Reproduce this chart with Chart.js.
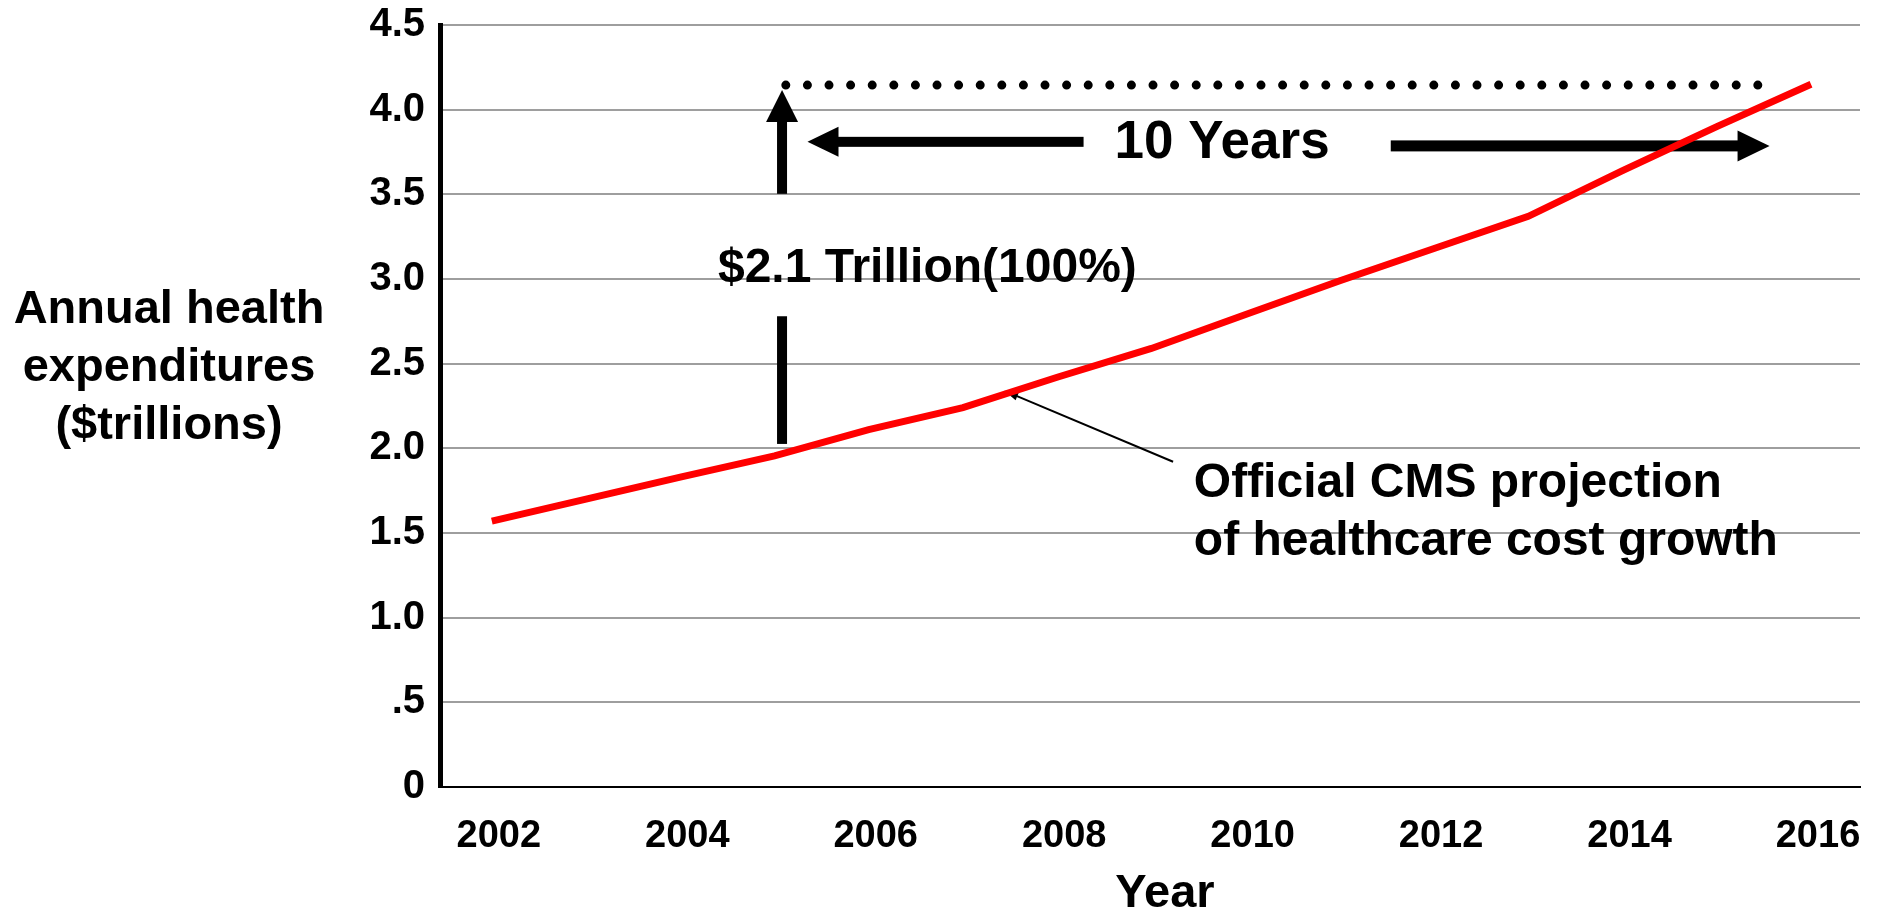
<!DOCTYPE html>
<html>
<head>
<meta charset="utf-8">
<title>Annual health expenditures</title>
<script src="https://cdn.jsdelivr.net/npm/chart.js@4.4.0/dist/chart.umd.min.js"></script>
<style>
  html, body { margin: 0; padding: 0; background: #fff; }
  #chartContainer { width: 1879px; height: 911px; }
</style>
</head>
<body>
<div id="chartContainer"><canvas id="myChart" width="1879" height="911"></canvas></div>
<script>
// Chart values.
var years = [2002, 2003, 2004, 2005, 2006, 2007, 2008, 2009, 2010, 2011, 2012, 2013, 2014, 2015, 2016];
var spending = [1.57, 1.70, 1.83, 1.955, 2.11, 2.24, 2.42, 2.59, 2.79, 2.99, 3.18, 3.37, 3.64, 3.90, 4.15];
var xTicks = [2002, 2004, 2006, 2008, 2010, 2012, 2014, 2016];
var yTicks = [0, 0.5, 1, 1.5, 2, 2.5, 3, 3.5, 4, 4.5];
var yTickLabels = ["0", ".5", "1.0", "1.5", "2.0", "2.5", "3.0", "3.5", "4.0", "4.5"];

// Texts.
var yTitleLines = ["Annual health", "expenditures", "($trillions)"];
var xTitle = "Year";
var spanLabel = "$2.1 Trillion(100%)";
var yearsLabel = "10 Years";
var calloutLines = ["Official CMS projection", "of healthcare cost growth"];

var FONT = '"Liberation Sans", Arial, Helvetica, sans-serif';

// Draw a filled arrow from (x1,y1) to tip (x2,y2).
function drawArrow(ctx, x1, y1, x2, y2, shaft, headLen, headWidth) {
  var ang = Math.atan2(y2 - y1, x2 - x1);
  var len = Math.hypot(x2 - x1, y2 - y1);
  ctx.save();
  ctx.translate(x1, y1);
  ctx.rotate(ang);
  ctx.fillRect(0, -shaft / 2, len - headLen + 1, shaft);
  ctx.beginPath();
  ctx.moveTo(len, 0);
  ctx.lineTo(len - headLen, -headWidth / 2);
  ctx.lineTo(len - headLen, headWidth / 2);
  ctx.closePath();
  ctx.fill();
  ctx.restore();
}

// Arrows, dotted line and notes, placed in data units.
var annotations = {
  id: "annotations",
  beforeDatasetsDraw: function(chart) {
    var ctx = chart.ctx;
    var xs = chart.scales.x, ys = chart.scales.y;
    var X = function(v) { return xs.getPixelForValue(v); };
    var Y = function(v) { return ys.getPixelForValue(v); };
    ctx.save();
    ctx.fillStyle = "#000";
    ctx.strokeStyle = "#000";

    // dotted line at the 2016 level
    ctx.save();
    ctx.lineWidth = 9;
    ctx.lineCap = "round";
    ctx.setLineDash([0, 21.6]);
    ctx.beginPath();
    ctx.moveTo(X(2005.12), Y(4.145));
    ctx.lineTo(X(2015.66), Y(4.145));
    ctx.stroke();
    ctx.restore();

    // vertical arrow
    drawArrow(ctx, X(2005.08), Y(3.503), X(2005.08), Y(4.116), 10, 32, 32);
    ctx.fillRect(X(2005.08) - 5, Y(2.78), 10, Y(2.026) - Y(2.78));

    // horizontal arrows
    drawArrow(ctx, X(2008.28), Y(3.81), X(2005.35), Y(3.81), 10, 31, 30);
    drawArrow(ctx, X(2011.54), Y(3.786), X(2015.56), Y(3.786), 11, 32, 31);

    // texts
    ctx.textBaseline = "alphabetic";
    ctx.font = "bold 48px " + FONT;
    ctx.textAlign = "left";
    ctx.fillText(spanLabel, X(2004.40), Y(2.982));
    ctx.font = "bold 53px " + FONT;
    ctx.textAlign = "center";
    ctx.fillText(yearsLabel, X(2009.75), Y(3.713));

    ctx.font = "bold 48px " + FONT;
    ctx.textAlign = "left";
    ctx.fillText(calloutLines[0], X(2009.45), Y(1.713));
    ctx.fillText(calloutLines[1], X(2009.45), Y(1.370));

    // thin pointer to the line
    drawArrow(ctx, X(2009.23), Y(1.921), X(2007.44), Y(2.34), 2, 14, 9);
    ctx.restore();
  },
  afterDraw: function(chart) {
    var ctx = chart.ctx;
    ctx.save();
    ctx.fillStyle = "#000";
    ctx.textAlign = "center";
    ctx.textBaseline = "alphabetic";
    ctx.font = "bold 47px " + FONT;
    var baselines = [323, 381, 439];
    for (let i = 0; i < yTitleLines.length; i++) {
      ctx.fillText(yTitleLines[i], 169, baselines[i]);
    }
    ctx.fillText(xTitle, 1165, 907);
    ctx.restore();
  }
};

var points = years.map(function(y, i) { return { x: y, y: spending[i] }; });

var ctx = document.getElementById("myChart");
var myChart = new Chart(ctx, {
  type: "line",
  data: {
    datasets: [
      {
        label: "Official CMS projection",
        data: points,
        borderColor: "#ff0000",
        backgroundColor: "#ff0000",
        borderWidth: 7,
        pointRadius: 0,
        tension: 0,
        fill: false
      }
    ]
  },
  options: {
    responsive: false,
    animation: false,
    layout: { padding: { left: 0, top: 25, right: 19, bottom: 0 } },
    plugins: {
      legend: { display: false },
      tooltip: { enabled: false }
    },
    scales: {
      x: {
        type: "linear",
        min: 2001.45,
        max: 2016.52,
        afterBuildTicks: function(scale) {
          scale.ticks = xTicks.map(function(v) { return { value: v }; });
        },
        afterFit: function(scale) {
          scale.height = 124;
          scale.paddingLeft = 0;
          scale.paddingRight = 0;
        },
        grid: { display: false, drawTicks: false },
        border: { display: true, color: "#000", width: 2 },
        ticks: {
          color: "#000",
          padding: 27,
          labelOffset: 7,
          maxRotation: 0,
          font: { family: FONT, size: 38, weight: "bold" },
          callback: function(value) { return String(value); }
        }
      },
      y: {
        min: 0,
        max: 4.5,
        afterBuildTicks: function(scale) {
          scale.ticks = yTicks.map(function(v) { return { value: v }; });
        },
        afterFit: function(scale) {
          // fixed axis width, and no extra room above the top label
          scale.width = 440;
          scale.paddingTop = 0;
          scale.paddingBottom = 0;
        },
        grid: { color: "#9e9e9e", lineWidth: 2, drawTicks: false },
        border: { display: true, color: "#000", width: 5 },
        ticks: {
          color: "#000",
          padding: 15,
          font: { family: FONT, size: 40, weight: "bold" },
          callback: function(value, index) { return yTickLabels[index]; }
        }
      }
    }
  },
  plugins: [annotations]
});
</script>
</body>
</html>
